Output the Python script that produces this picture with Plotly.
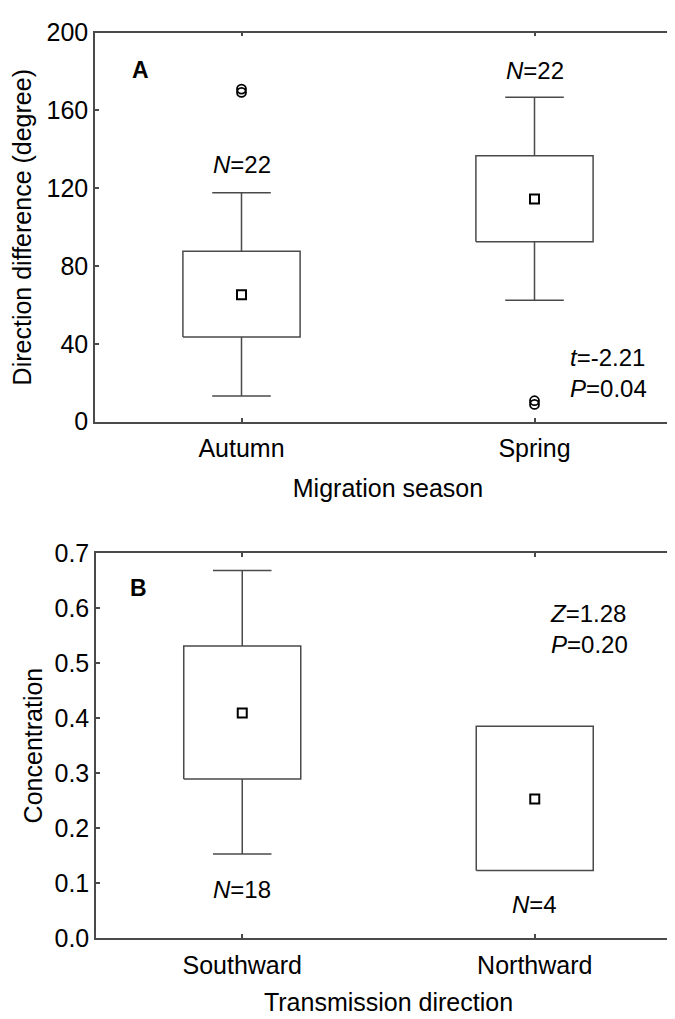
import plotly.graph_objects as go

# painel A - diferenca de direcao por estacao
estacoes = ['Autumn', 'Spring']
a_q1 = [43.5, 92.5]
a_q3 = [87.7, 136.8]
a_min = [13.2, 62.5]
a_max = [117.7, 166.8]
a_media = [65.3, 114.5]
a_out_grupo = [0, 0, 1, 1]
a_out_y = [171.0, 169.3, 10.8, 8.9]
a_n = ['22', '22']
a_n_y = [132, 180.5]

# painel B - concentracao por direcao
direcoes = ['Southward', 'Northward']
b_q1 = [0.289, 0.123]
b_q3 = [0.531, 0.385]
b_min = [0.153, 0.123]
b_max = [0.668, 0.385]
b_media = [0.409, 0.253]
b_n = ['18', '4']
b_n_y = [0.089, 0.061]

FONTE = 'Arial, Liberation Sans, sans-serif'
COR_LINHA = '#4a4a4a'
W, H = 675, 1019
MEIA_CAIXA = 0.2
MEIO_BIGODE = 0.1

fig = go.Figure()


def add_painel(q1, q3, lo, hi, media, xa, ya):
    xs, ys = [], []
    for i in range(len(q1)):
        # caixa
        xs += [i - MEIA_CAIXA, i + MEIA_CAIXA, i + MEIA_CAIXA, i - MEIA_CAIXA, i - MEIA_CAIXA, None]
        ys += [q1[i], q1[i], q3[i], q3[i], q1[i], None]
        # bigodes (so quando saem da caixa)
        if hi[i] > q3[i]:
            xs += [i, i, None, i - MEIO_BIGODE, i + MEIO_BIGODE, None]
            ys += [q3[i], hi[i], None, hi[i], hi[i], None]
        if lo[i] < q1[i]:
            xs += [i, i, None, i - MEIO_BIGODE, i + MEIO_BIGODE, None]
            ys += [q1[i], lo[i], None, lo[i], lo[i], None]
    fig.add_trace(go.Scatter(
        x=xs, y=ys, mode='lines', xaxis=xa, yaxis=ya, showlegend=False,
        line=dict(color=COR_LINHA, width=1.5), hoverinfo='skip',
    ))
    fig.add_trace(go.Scatter(
        x=list(range(len(media))), y=media, mode='markers', xaxis=xa, yaxis=ya,
        showlegend=False,
        marker=dict(symbol='square-open', size=9, color='black', line=dict(width=2)),
    ))


add_painel(a_q1, a_q3, a_min, a_max, a_media, 'x', 'y')
fig.add_trace(go.Scatter(
    x=a_out_grupo, y=a_out_y, mode='markers', showlegend=False,
    marker=dict(symbol='circle-open', size=9, color='black', line=dict(width=1.8)),
))
add_painel(b_q1, b_q3, b_min, b_max, b_media, 'x2', 'y2')

eixo = dict(
    showline=True, mirror='ticks', linecolor=COR_LINHA, linewidth=1.5,
    ticks='inside', ticklen=4, tickcolor=COR_LINHA, tickwidth=1.5,
    showgrid=False, zeroline=False,
    tickfont=dict(family=FONTE, size=25, color='black'),
    title_font=dict(family=FONTE, size=25, color='black'),
)

fig.update_layout(
    width=W, height=H,
    margin=dict(l=0, r=0, t=0, b=0),
    paper_bgcolor='white', plot_bgcolor='white',
    font=dict(family=FONTE, color='black'),
    xaxis=dict(eixo, domain=[87 / W, 673 / W], anchor='y', range=[-0.5, 1.5],
               tickvals=[0, 1], ticktext=estacoes, ticklabelstandoff=4,
               title=dict(text='Migration season', standoff=18)),
    yaxis=dict(eixo, domain=[1 - 411 / H, 1 - 11 / H], anchor='x', range=[0, 200],
               tickvals=[0, 40, 80, 120, 160, 200], ticklabelstandoff=0,
               title=dict(text='Direction difference (degree)', standoff=11)),
    xaxis2=dict(eixo, domain=[88 / W, 673 / W], anchor='y2', range=[-0.5, 1.5],
                tickvals=[0, 1], ticktext=direcoes, ticklabelstandoff=4,
                title=dict(text='Transmission direction', standoff=16)),
    yaxis2=dict(eixo, domain=[1 - 942 / H, 1 - 546 / H], anchor='x2', range=[0, 0.7],
                dtick=0.1, tickformat='.1f', ticklabelstandoff=0,
                title=dict(text='Concentration', standoff=5)),
)

anot = dict(showarrow=False, xanchor='center', yanchor='middle',
            font=dict(family=FONTE, size=24, color='black'))

for i, (n, y) in enumerate(zip(a_n, a_n_y)):
    fig.add_annotation(anot, x=i, y=y, xref='x', yref='y', text=f'<i>N</i>={n}')
for i, (n, y) in enumerate(zip(b_n, b_n_y)):
    fig.add_annotation(anot, x=i, y=y, xref='x2', yref='y2', text=f'<i>N</i>={n}')

fig.add_annotation(anot, x=132 / W, y=1 - 49 / H, xref='paper', yref='paper',
                   text='<b>A</b>', font=dict(family=FONTE, size=23, color='black'))
fig.add_annotation(anot, x=130 / W, y=1 - 582 / H, xref='paper', yref='paper',
                   text='<b>B</b>', font=dict(family=FONTE, size=23, color='black'))

fig.add_annotation(anot, x=560 / W, y=1 - 361 / H, xref='paper', yref='paper',
                   xanchor='left', align='left',
                   text='<i>t</i>=-2.21<br><i>P</i>=0.04')
fig.add_annotation(anot, x=540 / W, y=1 - 624 / H, xref='paper', yref='paper',
                   xanchor='left', align='left',
                   text='<i>Z</i>=1.28<br><i>P</i>=0.20')

fig.write_html('out.html')
